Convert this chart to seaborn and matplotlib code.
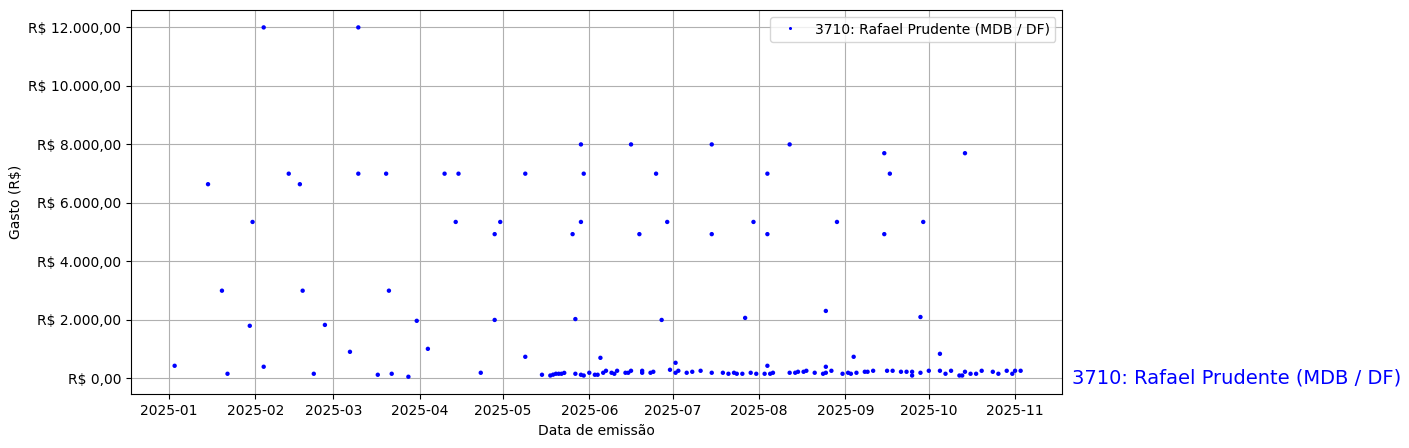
import matplotlib
matplotlib.use("Agg")
import matplotlib.pyplot as plt
import matplotlib.dates as mdates
from matplotlib.ticker import FuncFormatter, MultipleLocator
import pandas as pd
import seaborn as sns

label = "3710: Rafael Prudente (MDB / DF)"

dates = [
    "2025-01-03", "2025-01-15", "2025-01-20", "2025-01-22", "2025-01-30", "2025-01-31",
    "2025-02-04", "2025-02-04", "2025-02-13", "2025-02-17", "2025-02-18", "2025-02-22", "2025-02-26",
    "2025-03-07", "2025-03-10", "2025-03-10", "2025-03-17", "2025-03-20", "2025-03-21", "2025-03-22",
    "2025-03-28", "2025-03-31", "2025-04-04", "2025-04-10", "2025-04-15", "2025-04-14",
    "2025-04-23", "2025-04-28", "2025-04-28", "2025-04-30", "2025-05-09", "2025-05-09",
    "2025-05-15", "2025-05-18", "2025-05-19", "2025-05-20", "2025-05-21", "2025-05-22", "2025-05-23",
    "2025-05-26", "2025-05-27", "2025-05-27", "2025-05-29", "2025-05-29", "2025-05-29", "2025-05-30",
    "2025-05-30", "2025-06-01", "2025-06-03", "2025-06-04", "2025-06-05", "2025-06-06", "2025-06-07",
    "2025-06-09", "2025-06-10", "2025-06-11", "2025-06-14", "2025-06-15", "2025-06-16", "2025-06-16",
    "2025-06-19", "2025-06-20", "2025-06-20", "2025-06-23", "2025-06-24", "2025-06-25", "2025-06-27",
    "2025-06-29", "2025-06-30", "2025-07-02", "2025-07-02", "2025-07-03", "2025-07-06", "2025-07-08",
    "2025-07-11", "2025-07-15", "2025-07-15", "2025-07-15", "2025-07-19", "2025-07-21", "2025-07-23",
    "2025-07-24", "2025-07-26", "2025-07-27", "2025-07-29", "2025-07-30", "2025-07-31",
    "2025-08-03", "2025-08-04", "2025-08-04", "2025-08-04", "2025-08-05", "2025-08-06",
    "2025-08-12", "2025-08-12", "2025-08-14", "2025-08-15", "2025-08-17", "2025-08-18",
    "2025-08-21", "2025-08-24", "2025-08-25", "2025-08-25", "2025-08-25", "2025-08-27", "2025-08-29",
    "2025-08-31", "2025-09-02", "2025-09-03", "2025-09-04", "2025-09-05", "2025-09-08", "2025-09-09",
    "2025-09-11", "2025-09-15", "2025-09-15", "2025-09-16", "2025-09-18", "2025-09-17",
    "2025-09-21", "2025-09-23", "2025-09-25", "2025-09-25", "2025-09-28", "2025-09-28", "2025-09-29",
    "2025-10-01", "2025-10-05", "2025-10-05", "2025-10-07", "2025-10-09", "2025-10-12", "2025-10-13",
    "2025-10-14", "2025-10-14", "2025-10-16", "2025-10-18", "2025-10-20", "2025-10-24", "2025-10-26",
    "2025-10-29", "2025-10-31", "2025-11-01", "2025-11-03",
]
values = [
    433, 6640, 3000, 160, 1800, 5350,
    12000, 400, 7000, 6640, 3000, 160, 1830,
    910, 12000, 7000, 126, 7000, 3000, 160,
    58, 1970, 1012, 7000, 7000, 5350,
    194, 4933, 2000, 5350, 7000, 740,
    126, 100, 130, 160, 160, 160, 190,
    4933, 2030, 160, 8000, 5350, 126, 7000,
    100, 194, 126, 126, 705, 194, 262,
    194, 160, 262, 194, 194, 8000, 262,
    4933, 262, 194, 194, 228, 7000, 2000,
    5350, 296, 535, 194, 262, 194, 228,
    262, 8000, 4933, 194, 194, 160, 194,
    160, 160, 2070, 194, 5350, 160,
    160, 7000, 4933, 433, 160, 194,
    8000, 194, 194, 228, 228, 262,
    194, 160, 194, 2308, 399, 262, 5350,
    160, 194, 160, 740, 194, 228, 228,
    262, 7700, 4933, 262, 262, 7000,
    228, 228, 228, 100, 2100, 194, 5350,
    262, 842, 262, 160, 262, 100, 100,
    228, 7700, 160, 160, 262, 228, 160,
    262, 160, 262, 262,
]

df = pd.DataFrame({"Data de emissão": pd.to_datetime(dates), "Gasto (R$)": values, "Deputado": label})

fig, ax = plt.subplots(figsize=(14.09, 4.48), dpi=100)
fig.subplots_adjust(left=0.093, right=0.754, top=0.978, bottom=0.12)

sns.scatterplot(data=df, x="Data de emissão", y="Gasto (R$)", hue="Deputado",
                palette=["blue"], s=10, linewidth=0, ax=ax, zorder=3)

ax.grid(True, color="#b0b0b0", linewidth=0.8)
ax.set_axisbelow(True)
ax.xaxis.set_major_locator(mdates.MonthLocator())
ax.xaxis.set_major_formatter(mdates.DateFormatter("%Y-%m"))
ax.yaxis.set_major_locator(MultipleLocator(2000))

def brl(v, pos):
    s = f"{v:,.2f}".replace(",", "X").replace(".", ",").replace("X", ".")
    return "R$ " + s
ax.yaxis.set_major_formatter(FuncFormatter(brl))
ax.set_xlim(pd.Timestamp("2024-12-18 08:00"), pd.Timestamp("2025-11-18"))
ax.set_ylim(-540, 12600)
ax.set_xlabel("Data de emissão")
ax.set_ylabel("Gasto (R$)")
ax.legend(loc="upper right", markerscale=0.7)

ax.annotate(label, xy=(1.0, 0), xycoords=("axes fraction", "data"),
            xytext=(7, 0), textcoords="offset points", color="blue", fontsize=14,
            va="center", ha="left", annotation_clip=False)

fig.savefig("out.png", dpi=100)
